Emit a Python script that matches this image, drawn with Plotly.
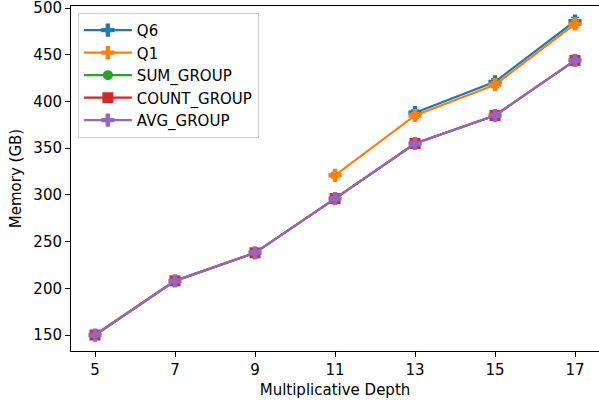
import plotly.graph_objects as go

depth_all = [5, 7, 9, 11, 13, 15, 17]
q6_x = [13, 15, 17]
q6_y = [388, 421, 486]
q6_err = [3, 3, 4]
q1_x = [11, 13, 15, 17]
q1_y = [321, 385, 418, 483]
q1_err = [3, 3, 3, 4]
sum_y = [150, 208, 238, 296, 355, 385, 444]
count_y = [150, 208, 238, 296, 355, 385, 444]
avg_y = [150, 208, 238, 296, 355, 385, 444]
grp_err = [2, 2, 2, 2, 2, 2, 2]

series = [
    ("Q6", q6_x, q6_y, q6_err, "#1f77b4", "cross"),
    ("Q1", q1_x, q1_y, q1_err, "#ff7f0e", "cross"),
    ("SUM_GROUP", depth_all, sum_y, grp_err, "#2ca02c", "circle"),
    ("COUNT_GROUP", depth_all, count_y, grp_err, "#d62728", "square"),
    ("AVG_GROUP", depth_all, avg_y, grp_err, "#9467bd", "cross"),
]

fig = go.Figure()
for name, x, y, err, color, sym in series:
    fig.add_trace(go.Scatter(
        x=x, y=y, name=name, mode="lines+markers",
        line=dict(color=color, width=2.2),
        marker=dict(symbol=sym, size=11 if sym != "circle" else 10, color=color, line=dict(width=0)),
        error_y=dict(type="data", array=err, visible=True, color=color, thickness=1.5, width=4),
    ))

axis_common = dict(
    showline=True, linecolor="black", linewidth=1, mirror=True,
    ticks="outside", ticklen=5, tickcolor="black", showgrid=False, zeroline=False,
    automargin=False, ticklabeloverflow="allow",
    tickfont=dict(family="DejaVu Sans", size=15, color="black"),
)

fig.update_layout(
    width=599, height=402,
    margin=dict(l=71, r=0, t=6, b=51),
    plot_bgcolor="white", paper_bgcolor="white",
    font=dict(family="DejaVu Sans", size=15, color="black"),
    xaxis=dict(range=[4.4, 17.6], tickvals=[5, 7, 9, 11, 13, 15, 17],
               title=dict(text="Multiplicative Depth", font=dict(size=15), standoff=6), **axis_common),
    yaxis=dict(range=[132.9, 502.2], tickvals=[150, 200, 250, 300, 350, 400, 450, 500],
               title=dict(text="Memory (GB)", font=dict(size=15), standoff=8), **axis_common),
    legend=dict(x=0.013, y=0.98, xanchor="left", yanchor="top",
                bgcolor="rgba(255,255,255,0.8)", bordercolor="#cccccc", borderwidth=1,
                font=dict(size=15), tracegroupgap=0, itemwidth=48),
    showlegend=True,
)

fig.write_html("out.html", config={"displayModeBar": False},
               post_script="document.body.style.margin='0px';")
